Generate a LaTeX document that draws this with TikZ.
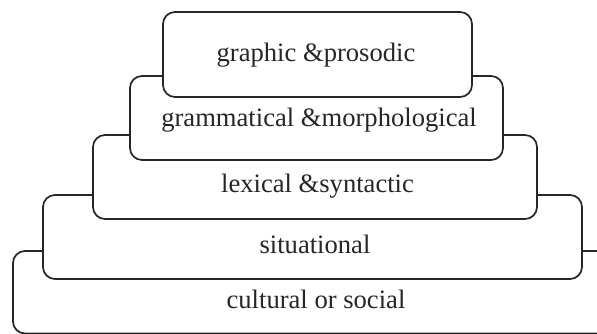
\documentclass[tikz,border=0pt]{standalone}
\usepackage{fontspec}
\setmainfont{Liberation Serif}
\begin{document}
\begin{tikzpicture}[x=1pt,y=-1pt,
  layerbox/.style={draw=black!85, line width=1.7pt, fill=white, rounded corners=12pt,
    inner sep=0pt, outer sep=0pt, rectangle},
  label/.style={anchor=base, inner sep=0pt, font=\fontsize{26.6}{30}\selectfont, text=black!85}]
\useasboundingbox (0,0) rectangle (597,334);
\clip (0,0) rectangle (597,334);
\node[layerbox, minimum width=607pt, minimum height=82.5pt] (b5) at (316.5,292.25) {};
\node[layerbox, minimum width=539pt, minimum height=84pt] (b4) at (312.5,237) {};
\node[layerbox, minimum width=444pt, minimum height=84pt] (b3) at (315,177) {};
\node[layerbox, minimum width=373pt, minimum height=84pt] (b2) at (316.5,118) {};
\node[layerbox, minimum width=309pt, minimum height=85pt] (b1) at (317.5,54.5) {};
\node[label] (t1) at (316,62) {graphic \&prosodic};
\node[label] (t2) at (319,127) {grammatical \&morphological};
\node[label] (t3) at (317.5,192) {lexical \&syntactic};
\node[label] (t4) at (315,253) {situational};
\node[label] (t5) at (316,308) {cultural or social};
\end{tikzpicture}
\end{document}
